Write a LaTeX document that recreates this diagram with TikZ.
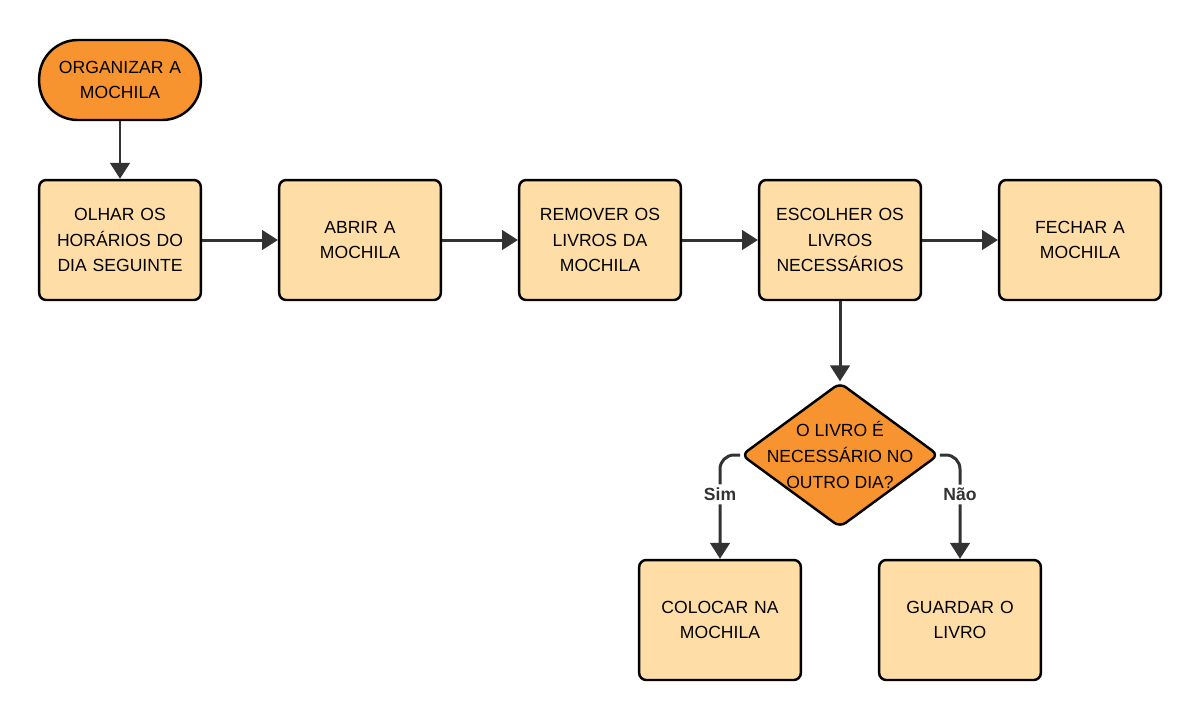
\documentclass[tikz,border=0pt]{standalone}
\usepackage{fontspec}
\setmainfont{Liberation Sans}
\usepackage{xcolor}
\usetikzlibrary{shapes.geometric, arrows.meta, positioning, calc}

\definecolor{laranja}{HTML}{F8942F}
\definecolor{creme}{HTML}{FEDEA6}
\definecolor{linha}{HTML}{333333}

\begin{document}
\begin{tikzpicture}[
    x=0.02cm, y=-0.02cm,
    % Node styles with colors
    inicio/.style={rectangle, rounded corners=22pt, draw=black, line width=1.4pt, fill=laranja, minimum width=3.2cm, minimum height=1.6cm, text centered, text width=3cm, font=\fontsize{10}{14.7}\selectfont},
    passo/.style={rectangle, rounded corners=4pt, draw=black, line width=1.4pt, fill=creme, minimum width=3.2cm, minimum height=2.4cm, text centered, text width=3cm, font=\fontsize{10}{14.7}\selectfont},
    decisao/.style={diamond, rounded corners=4pt, draw=black, line width=1.4pt, fill=laranja, minimum width=3.95cm, minimum height=2.9cm, inner sep=0pt},
    dtexto/.style={align=center, font=\fontsize{10}{14.7}\selectfont},
    rotulo/.style={fill=white, inner sep=2pt, font=\fontsize{10}{12}\selectfont\bfseries},
    seta/.style={-{Triangle[length=9pt, width=11pt]}, line width=1.7pt, linha}
]
\useasboundingbox (0,0) rectangle (1199,721);

% Start
\node[inicio] (org) at (120, 80) {ORGANIZAR A\\MOCHILA};

% === MAIN ROW ===
\node[passo] (olhar) at (120, 240) {OLHAR OS\\HORÁRIOS DO\\DIA SEGUINTE};
\node[passo] (abrir) at (360, 240) {ABRIR A\\MOCHILA};
\node[passo] (remover) at (600, 240) {REMOVER OS\\LIVROS DA\\MOCHILA};
\node[passo] (escolher) at (840, 240) {ESCOLHER OS\\LIVROS\\NECESSÁRIOS};
\node[passo] (fechar) at (1080, 240) {FECHAR A\\MOCHILA};

\draw[seta] (org.south) -- (olhar.north);
\draw[seta] (olhar.east) -- (abrir.west);
\draw[seta] (abrir.east) -- (remover.west);
\draw[seta] (remover.east) -- (escolher.west);
\draw[seta] (escolher.east) -- (fechar.west);

% === DECISION ===
\node[decisao, label={[dtexto]center:O LIVRO É\\NECESSÁRIO NO\\OUTRO DIA?}] (livro) at (840, 455) {};
\node[passo] (colocar) at (720, 620) {COLOCAR NA\\MOCHILA};
\node[passo] (guardar) at (960, 620) {GUARDAR O\\LIVRO};

\draw[seta] (escolher.south) -- (livro.north);
\draw[seta, rounded corners=8pt] (livro.west) -| (colocar.north) node[rotulo, pos=0.69] {Sim};
\draw[seta, rounded corners=8pt] (livro.east) -| (guardar.north) node[rotulo, pos=0.69] {Não};

\end{tikzpicture}
\end{document}
